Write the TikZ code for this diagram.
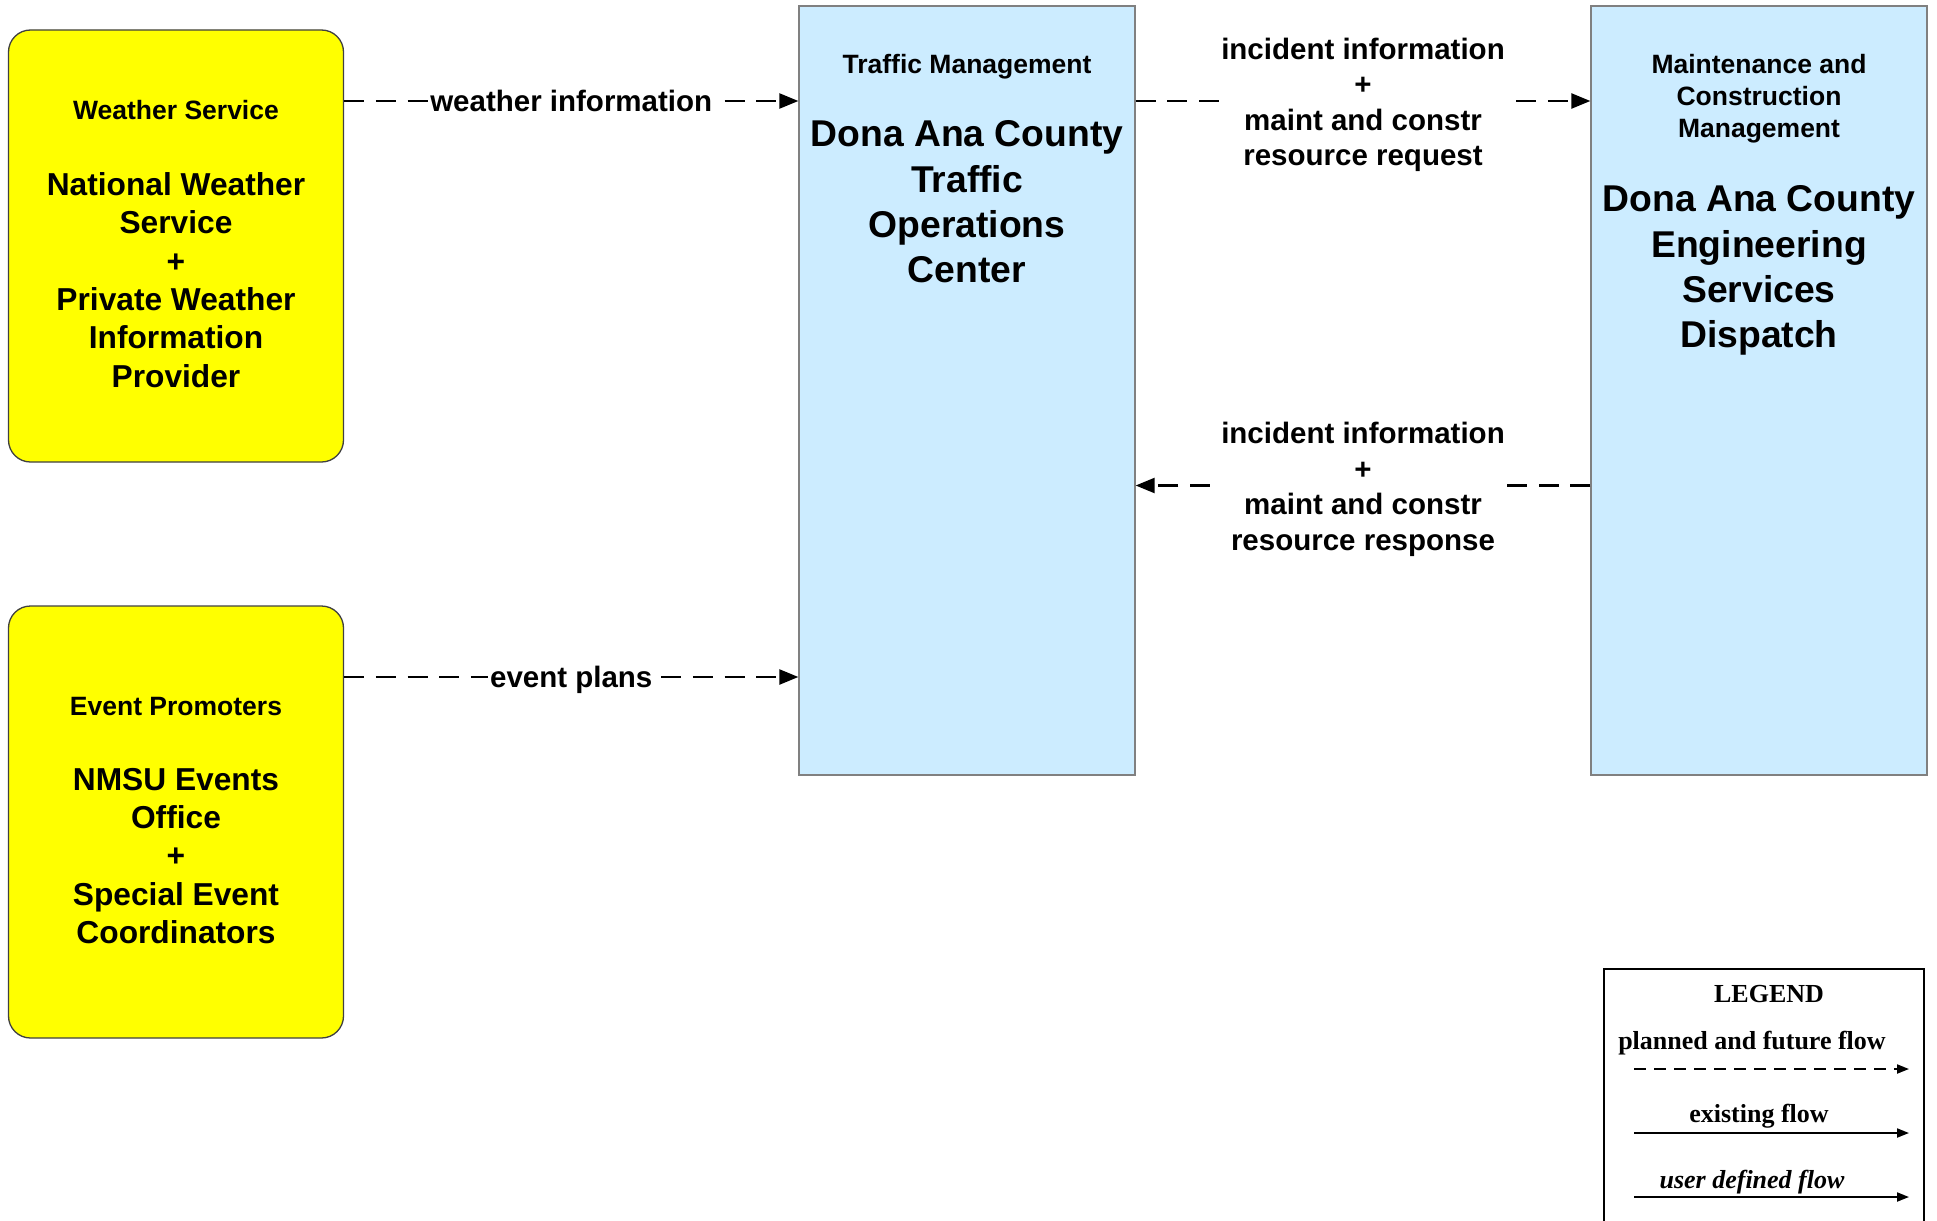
\documentclass[tikz,border=0pt]{standalone}
\usepackage{fontspec}
\setmainfont{Liberation Sans}
\newfontfamily\legendfont{Liberation Serif}
\usetikzlibrary{arrows.meta, positioning}
\definecolor{termyellow}{RGB}{255,255,0}
\definecolor{subblue}{RGB}{204,236,255}
\definecolor{subborder}{RGB}{128,128,128}
\tikzset{
  terminator/.style = {draw=black!75, fill=termyellow, rounded corners=22pt,
                       line width=1.3pt, minimum width=335pt, minimum height=432pt},
  subsystem/.style  = {draw=subborder, fill=subblue, line width=1.3pt,
                       minimum width=336pt, minimum height=769pt},
  % texts inside the boxes
  classlabel/.style = {font=\fontsize{26.5}{32}\selectfont\bfseries,
                       align=center, inner sep=0pt},
  termname/.style   = {font=\fontsize{31.7}{38.3}\selectfont\bfseries,
                       align=center, inner sep=0pt},
  subname/.style    = {font=\fontsize{37.3}{45.3}\selectfont\bfseries,
                       align=center, inner sep=0pt},
  % flows
  flow/.style       = {-{Triangle[length=19pt, width=15pt]}, line width=2.3pt,
                       dash pattern=on 20pt off 11.7pt},
  flowlabel/.style  = {fill=white, align=center, inner sep=2pt,
                       font=\fontsize{29.5}{35.5}\selectfont\bfseries},
  % legend
  legendtext/.style = {font=\fontsize{26}{30}\legendfont\bfseries, inner sep=0pt},
  legendflow/.style = {-{Triangle[length=12pt, width=9pt]}, line width=2pt},
}

\begin{document}
\begin{tikzpicture}[x=1pt, y=-1pt]
\useasboundingbox (0,0) rectangle (1937,1220);

% ===== Terminators =====
\node[terminator] (ws) at (176,246) {};
\node[termname] (wsname) at ([yshift=-34pt]ws.center)
  {National Weather\\Service\\+\\Private Weather\\Information\\Provider};
\node[classlabel, above=52pt of wsname] (wsclass) {Weather Service};

\node[terminator] (ep) at (176,822) {};
\node[termname] (epname) at ([yshift=-34pt]ep.center)
  {NMSU Events\\Office\\+\\Special Event\\Coordinators};
\node[classlabel, above=52pt of epname] (epclass) {Event Promoters};

% ===== Subsystems =====
\node[subsystem] (tmc) at (967,390.5) {};
\node[classlabel, below=49pt of tmc.north] (tmcclass) {Traffic Management};
\node[subname, below=41pt of tmcclass] (tmcname)
  {Dona Ana County\\Traffic\\Operations\\Center};

\node[subsystem] (mcm) at (1759,390.5) {};
\node[classlabel, below=49pt of mcm.north] (mcmclass)
  {Maintenance and\\Construction\\Management};
\node[subname, below=42pt of mcmclass] (mcmname)
  {Dona Ana County\\Engineering\\Services\\Dispatch};

% ===== Flows =====
\coordinate (levelA) at (0,101);
\coordinate (levelB) at (0,485.5);
\coordinate (levelC) at (0,677);
\draw[flow] (ws.east |- levelA) -- node[flowlabel] {weather information} (tmc.west |- levelA);
\draw[flow] (ep.east |- levelC) -- node[flowlabel, yshift=-2.5pt] {event plans} (tmc.west |- levelC);
\draw[flow] (tmc.east |- levelA) -- node[flowlabel, yshift=-4pt]
  {incident information\\+\\maint and constr\\resource request} (mcm.west |- levelA);
\draw[flow] (mcm.west |- levelB) -- node[flowlabel, yshift=-4pt]
  {incident information\\+\\maint and constr\\resource response} (tmc.east |- levelB);

% ===== Legend =====
\node[draw, line width=1.8pt, anchor=north west, minimum width=320pt,
      minimum height=300pt] (legend) at (1603,968) {};
\node[legendtext] (lgtitle) at (1769,994) {LEGEND};
\node[legendtext] (lgplanned) at (1752,1043.5) {planned and future flow};
\node[legendtext] (lgexisting) at (1759,1116.5) {existing flow};
\node[legendtext] (lguser) at (1752,1182.5) {\itshape user defined flow};
\coordinate (lgA1) at (1634,1069);
\coordinate (lgA2) at (1909,1069);
\coordinate (lgB1) at (1634,1133);
\coordinate (lgB2) at (1909,1133);
\coordinate (lgC1) at (1634,1197);
\coordinate (lgC2) at (1909,1197);
\draw[legendflow, dash pattern=on 12pt off 8pt] (lgA1) -- (lgA2);
\draw[legendflow] (lgB1) -- (lgB2);
\draw[legendflow] (lgC1) -- (lgC2);

\end{tikzpicture}
\end{document}
